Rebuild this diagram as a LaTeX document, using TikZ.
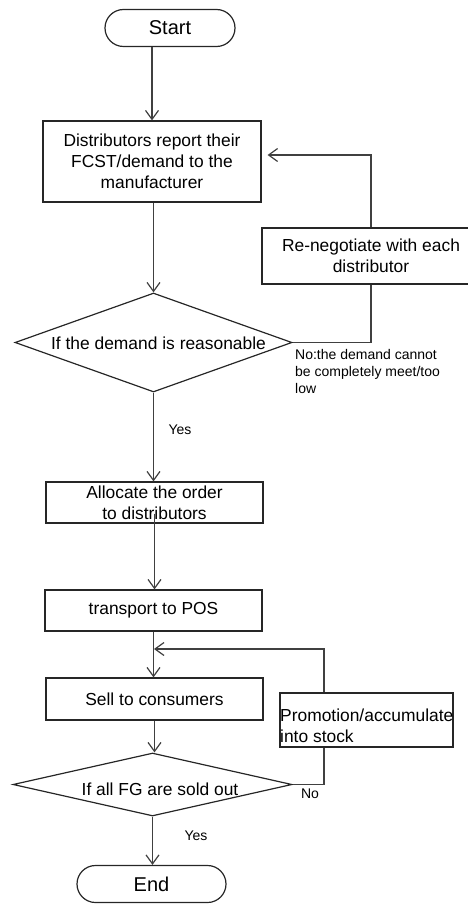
\documentclass[tikz,border=0pt]{standalone}
\usepackage{fontspec}
\setmainfont{Liberation Sans}
\usetikzlibrary{arrows.meta,shapes.geometric,calc}
\begin{document}
\begin{tikzpicture}[x=1pt,y=-1pt,
  box/.style={draw=black!85, line width=1.2pt, rectangle, inner sep=0pt,
    font=\fontsize{17.4}{21}\selectfont, align=center},
  term/.style={draw=black!85, line width=1.2pt, rectangle, rounded corners=18.5pt,
    inner sep=0pt, minimum height=37pt, font=\fontsize{20}{24}\selectfont},
  dia/.style={draw=black!85, line width=1.2pt, diamond, inner sep=0pt},
  txt/.style={font=\fontsize{17.4}{21}\selectfont, align=center, inner sep=0pt},
  small/.style={font=\fontsize{14}{17}\selectfont, align=left, inner sep=0pt},
  conn/.style={draw=black!75, line width=1.2pt},
  arr/.style={conn, -{Straight Barb[length=9pt,width=13pt]}}
]
\useasboundingbox (0,0) rectangle (468,904);

% nodes
\node[term, minimum width=130pt] (start) at (170,28) {Start};
\node[box, minimum width=218pt, minimum height=81pt] (box1) at (152,161.5)
  {Distributors report their\\FCST/demand to the\\manufacturer};
\node[box, minimum width=218pt, minimum height=56pt] (reneg) at (371,256)
  {Re-negotiate with each\\distributor};
\node[dia, minimum width=277pt, minimum height=99pt] (d1) at (153.5,342.5) {};
\node[txt] (d1t) at (158.5,343) {If the demand is reasonable};
\node[box, minimum width=217pt, minimum height=41pt] (alloc) at (154.5,502.5)
  {Allocate the order\\to distributors};
\node[box, minimum width=217pt, minimum height=41pt] (trans) at (153.5,610.5)
  {transport to POS};
\node[box, minimum width=217pt, minimum height=42pt] (sell) at (154.5,699)
  {Sell to consumers};
\node[box, minimum width=173pt, minimum height=54pt] (promo) at (366.5,720) {};
\node[txt, align=left, anchor=west] (promot) at (280,725.5)
  {Promotion/accumulate\\into stock};
\node[dia, minimum width=279pt, minimum height=63pt] (d2) at (152.5,784.5) {};
\node[txt] (d2t) at (160,789) {If all FG are sold out};
\node[term, minimum width=149pt] (end) at (151.5,884) {End};

% labels
\node[small, anchor=north west] (nolab) at (295,349)
  {No:the demand cannot\\be completely meet/too\\low};
\node[small] (yes1) at (180,430) {Yes};
\node[small] (no2) at (310,794) {No};
\node[small] (yes2) at (196,836) {Yes};

\coordinate (j2) at (154,649);

% connectors
\draw[arr] (box1.north |- start.south) -- (box1.north);
\draw[arr] (d1.north |- box1.south) -- (d1.north);
\draw[arr] (d1.south) -- (d1.south |- alloc.north);
\draw[arr] ([yshift=10pt]alloc.south) -- (alloc.south |- trans.north);
\draw[arr] (trans.south) -- (trans.south |- sell.north);
\draw[arr] (sell.south) -- (sell.south |- d2.north);
\draw[arr] (d2.south) -- (d2.south |- end.north);

\draw[conn] (d1.east) -| (reneg.south);
\draw[arr] (reneg.north) |- ([xshift=6pt,yshift=6.5pt]box1.east);

\draw[conn] (d2.east) -| ([xshift=-42.5pt]promo.south);
\draw[arr] ([xshift=-42.5pt]promo.north) |- (j2);
\end{tikzpicture}
\end{document}
